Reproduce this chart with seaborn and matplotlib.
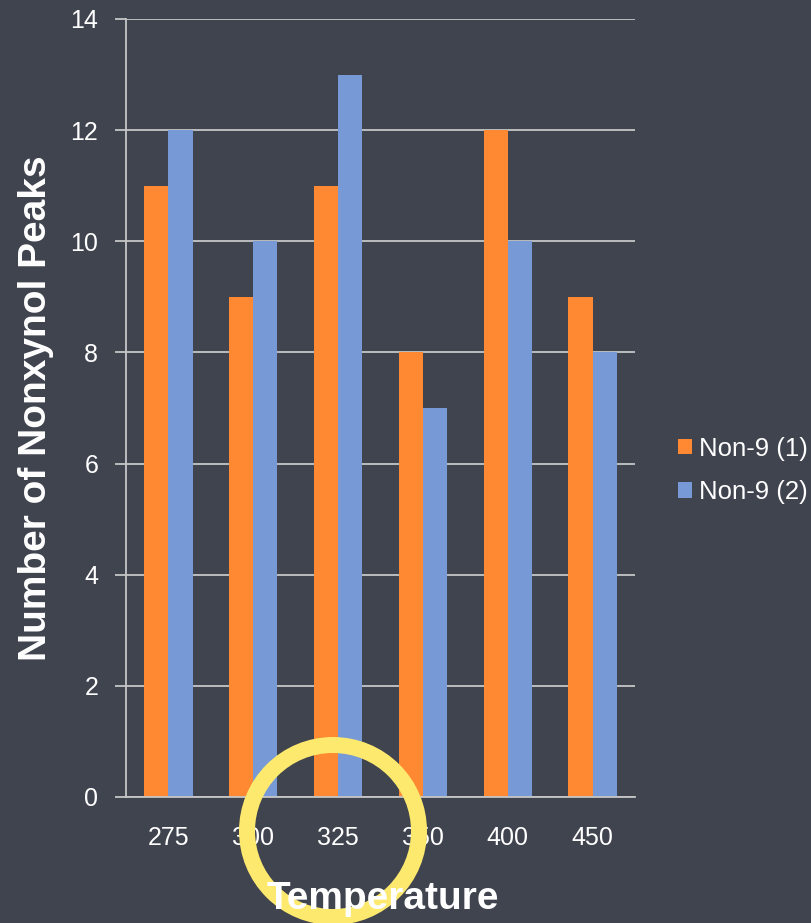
import matplotlib
matplotlib.use("Agg")
import matplotlib.pyplot as plt
from matplotlib.patches import Ellipse
import seaborn as sns
import pandas as pd

temperatures = ["275", "300", "325", "350", "400", "450"]
non9_run1 = [11, 9, 11, 8, 12, 9]
non9_run2 = [12, 10, 13, 7, 10, 8]
series_names = ["Non-9 (1)", "Non-9 (2)"]
y_ticks = [0, 2, 4, 6, 8, 10, 12, 14]

bg = "#40444f"
fg = "#ffffff"
grid_col = "#c6c6c6"
palette = ["#ff8833", "#7799d6"]

df = pd.DataFrame({
    "Temperature": temperatures * 2,
    "Peaks": non9_run1 + non9_run2,
    "Series": [series_names[0]] * len(temperatures) + [series_names[1]] * len(temperatures),
})

sns.set_theme(style="white")
plt.rcParams["font.family"] = ["Liberation Sans", "DejaVu Sans"]

W, H = 812, 923
fig = plt.figure(figsize=(W / 100, H / 100), dpi=100, facecolor=bg)
ax = fig.add_axes([126 / W, 1 - 797 / H, (635 - 126) / W, (797 - 19) / H])
ax.set_facecolor(bg)

sns.barplot(data=df, x="Temperature", y="Peaks", hue="Series", palette=palette,
            width=0.57, gap=0, saturation=1, linewidth=0, edgecolor="none",
            ax=ax, legend=True)

ax.set_ylim(0, 14)
ax.set_yticks(y_ticks)
ax.set_xlim(-0.5, len(temperatures) - 0.5)
ax.yaxis.grid(True, color=grid_col, linewidth=1.3)
ax.set_axisbelow(True)
for side in ["top", "right"]:
    ax.spines[side].set_visible(False)
ax.spines["left"].set_color(grid_col)
ax.spines["left"].set_linewidth(1.3)
ax.spines["bottom"].set_color(grid_col)
ax.spines["bottom"].set_linewidth(1.3)

ax.tick_params(axis="y", colors=grid_col, labelcolor=fg, length=8, width=1.3,
               labelsize=18, left=True, pad=12)
ax.tick_params(axis="x", length=0, labelcolor=fg, labelsize=18, pad=21)

ax.set_xlabel("")
ax.set_ylabel("Number of Nonxynol Peaks", color=fg, fontsize=28, fontweight="bold", labelpad=12)

leg = ax.legend(loc="center left", bbox_to_anchor=(1.065, 0.42), frameon=False,
                fontsize=18.5, handlelength=0.55, handleheight=0.55, handletextpad=0.25,
                labelspacing=0.75, borderaxespad=0)
for t in leg.get_texts():
    t.set_color(fg)

# highlight ring around the middle of the temperature axis
cx, cy, r = 333, 831, 86
ring = Ellipse((cx / W, 1 - cy / H), 2 * r / W, 2 * r / H, transform=fig.transFigure,
               fill=False, edgecolor="#fde96e", linewidth=11.5, zorder=10, clip_on=False)
fig.add_artist(ring)

# axis title sits above the ring
fig.text(383 / W, 1 - 909 / H, "Temperature", color=fg, fontsize=28, fontweight="bold",
         ha="center", va="baseline", zorder=11)

fig.savefig("out.png", dpi=100, facecolor=bg)
